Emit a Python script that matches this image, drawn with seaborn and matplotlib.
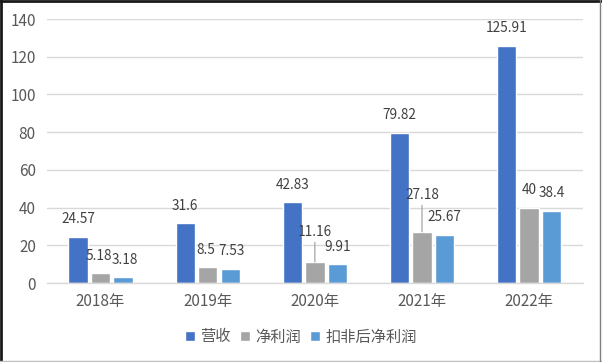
import matplotlib
matplotlib.use("Agg")
import matplotlib.pyplot as plt
from matplotlib.lines import Line2D
import seaborn as sns
import pandas as pd

# 数据
years = ["2018年", "2019年", "2020年", "2021年", "2022年"]
series = ["营收", "净利润", "扣非后净利润"]
revenue = [24.57, 31.6, 42.83, 79.82, 125.91]
net_profit = [5.18, 8.5, 11.16, 27.18, 40]
net_profit_adj = [3.18, 7.53, 9.91, 25.67, 38.4]
label_texts = [["24.57", "31.6", "42.83", "79.82", "125.91"],
               ["5.18", "8.5", "11.16", "27.18", "40"],
               ["3.18", "7.53", "9.91", "25.67", "38.4"]]

colors = ["#4472C4", "#A5A5A5", "#5B9BD5"]
# 手动拖动过的标签（带引导线）: (系列, 年份) -> 上移点数
moved = {(1, 2): 21.5, (1, 3): 26.5}
# 挤在一起的标签左右微调（点）
nudge_x = {(1, 0): -1.5, (2, 0): 1.5, (1, 1): -1.0, (2, 1): 1.0}

df = pd.DataFrame({
    "year": years * 3,
    "series": [s for s in series for _ in years],
    "value": revenue + net_profit + net_profit_adj,
})

sns.set_theme(style="white")
plt.rcParams["font.family"] = ["Noto Sans CJK SC", "DejaVu Sans"]

fig = plt.figure(figsize=(6.02, 3.62), dpi=100)
ax = fig.add_axes([0.078, 0.218, 0.890, 0.7295])

sns.barplot(data=df, x="year", y="value", hue="series", order=years,
            hue_order=series, palette=colors, width=0.63, gap=0.14,
            saturation=1, ax=ax, legend=True)

ax.set_ylim(0, 140)
ax.set_yticks(range(0, 141, 20))
ax.set_xlim(-0.5, 4.5)
ax.grid(axis="y", color="#D9D9D9", linewidth=1)
ax.set_axisbelow(True)
for s in ["top", "right", "left"]:
    ax.spines[s].set_visible(False)
ax.spines["bottom"].set_color("#D9D9D9")
ax.spines["bottom"].set_linewidth(1)
ax.tick_params(axis="y", length=0, pad=8, labelsize=11, labelcolor="#595959")
ax.tick_params(axis="x", length=0, pad=7, labelsize=11, labelcolor="#595959")
ax.set_xlabel("")
ax.set_ylabel("")

# 数据标签
for si, cont in enumerate(ax.containers):
    for yi, bar in enumerate(cont):
        x = bar.get_x() + bar.get_width() / 2
        h = bar.get_height()
        dx = nudge_x.get((si, yi), 0)
        if (si, yi) in moved:
            dy = moved[(si, yi)]
            ax.annotate(label_texts[si][yi], xy=(x, h), xytext=(dx, dy),
                        textcoords="offset points", ha="center", va="center",
                        fontsize=9.8, color="#404040",
                        arrowprops=dict(arrowstyle="-", color="#A6A6A6", lw=0.9,
                                        shrinkA=0, shrinkB=0, relpos=(0.5, 0)))
        else:
            ax.annotate(label_texts[si][yi], xy=(x, h), xytext=(dx, 12.6),
                        textcoords="offset points", ha="center", va="center",
                        fontsize=9.8, color="#404040")

ax.legend(loc="center", bbox_to_anchor=(0.5, 25 / 362), bbox_transform=fig.transFigure,
          ncol=3, frameon=False, fontsize=11, handlelength=0.65, handleheight=0.65,
          handletextpad=0.35, columnspacing=0.6, labelcolor="#595959")

# 外框
fig.add_artist(Line2D([0, 1], [0.997, 0.997], color="#1A1A1A", lw=2, transform=fig.transFigure))
fig.add_artist(Line2D([0.002, 0.002], [0, 1], color="#1A1A1A", lw=2, transform=fig.transFigure))
fig.add_artist(Line2D([0, 1], [0.004, 0.004], color="#BFBFBF", lw=1, transform=fig.transFigure))
fig.add_artist(Line2D([0.997, 0.997], [0, 1], color="#7F7F7F", lw=1, transform=fig.transFigure))

plt.savefig("out.png", dpi=100)
